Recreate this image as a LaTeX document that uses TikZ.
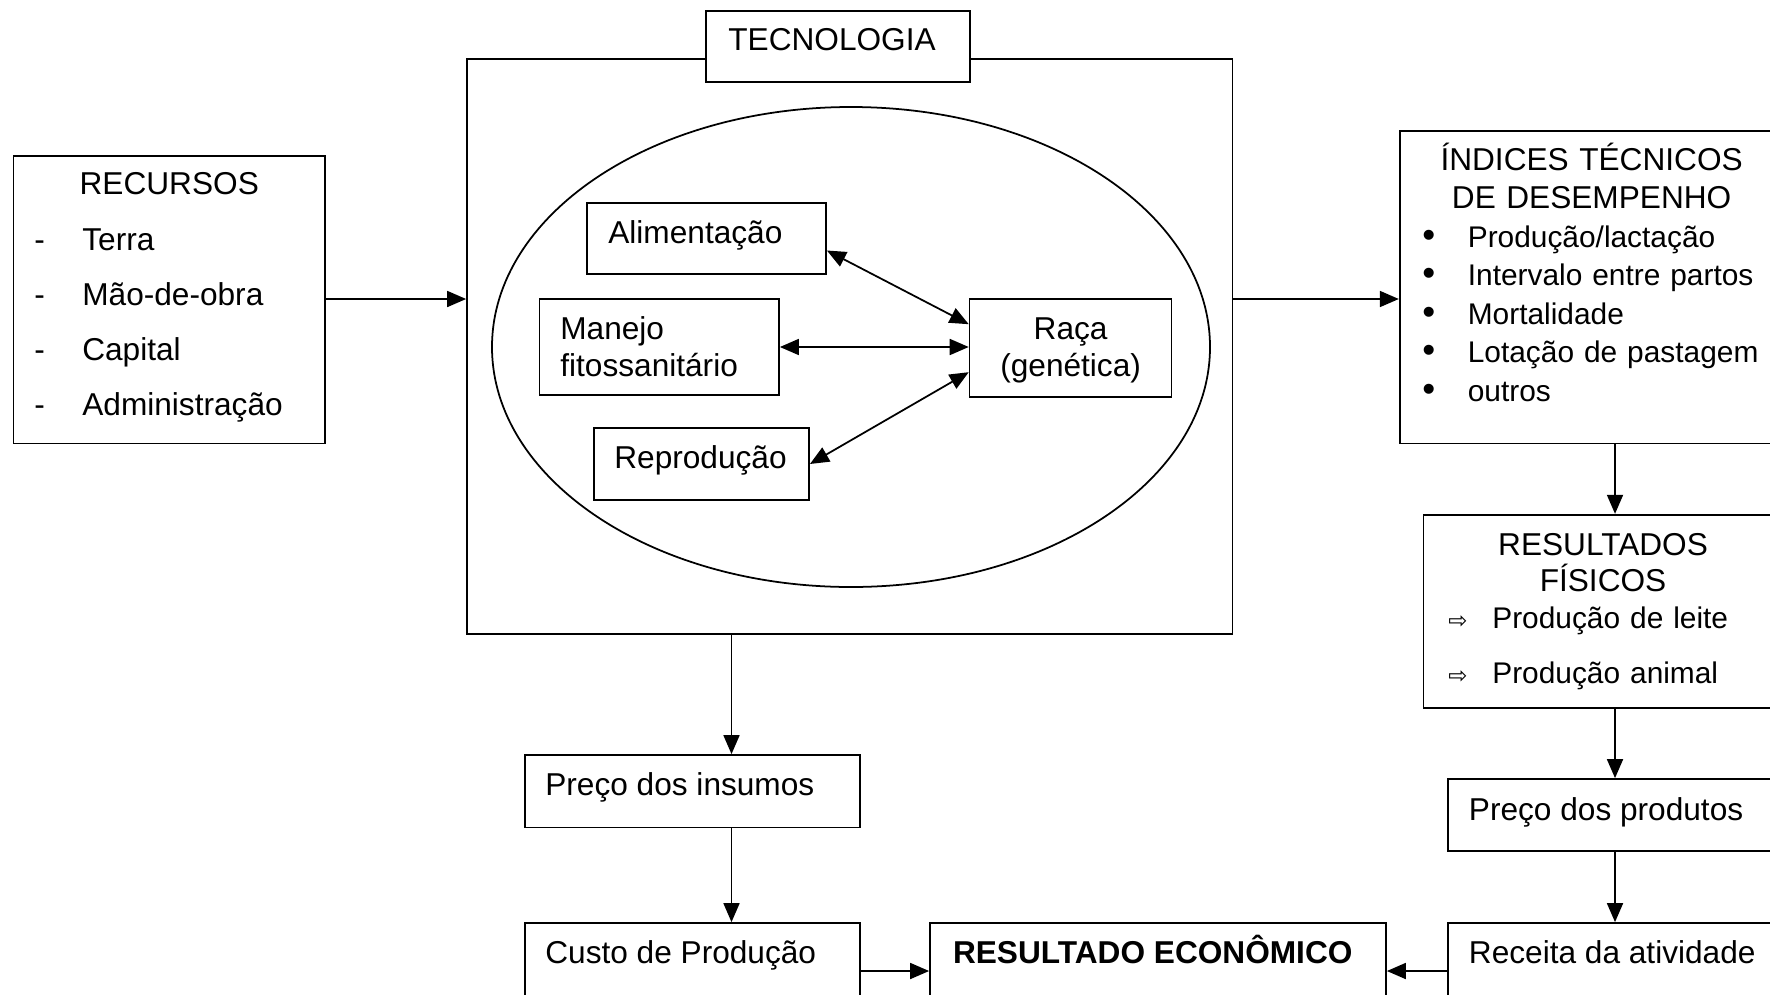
\documentclass[tikz,border=0pt]{standalone}
\usepackage{fontspec}
\setmainfont{Liberation Sans}
\newfontfamily\arrowfont{DejaVu Sans}
\usepackage{tikz}
\usetikzlibrary{positioning,arrows.meta,calc,shapes.geometric}

\newcommand\bul{\makebox[0.91cm][l]{\fontsize{21}{21}\selectfont\textbullet}}
\newcommand\seta{\makebox[0.88cm][l]{\arrowfont\fontsize{13}{13}\selectfont ⇨}}

\begin{document}
\begin{tikzpicture}[x=0.02cm, y=-0.02cm, >={Triangle[length=0.38cm, width=0.32cm]},
  every node/.style={font=\fontsize{18}{22}\selectfont, inner sep=0pt},
  box/.style={draw, line width=1pt},
  txt/.style={anchor=base west, align=left}]
  \def\u{0.02cm}
  \useasboundingbox (0,0) rectangle (1770,994);
  \clip (0,0) rectangle (1770,994);

  % caixas principais
  \node[box, minimum width=311.5*\u, minimum height=287.5*\u] (recursos) at (169.25,299.75) {};
  \node[box, minimum width=765.6*\u, minimum height=575.7*\u] (tecbox) at (849.8,346.5) {};
  \node[box, fill=white, minimum width=264*\u, minimum height=71*\u] (teclabel) at (838,46.5) {};
  \node[draw, ellipse, line width=1pt, minimum width=718*\u, minimum height=480*\u] (ovalo) at (851,347) {};

  \node[box, minimum width=239*\u, minimum height=71*\u] (alim) at (706.5,238.5) {};
  \node[box, minimum width=239.4*\u, minimum height=96*\u] (manejo) at (659.3,347) {};
  \node[box, minimum width=215.3*\u, minimum height=72.2*\u] (repro) at (701.4,464) {};
  \node[box, minimum width=202*\u, minimum height=98.3*\u] (raca) at (1070.6,348.2) {};

  \node[box, minimum width=384.3*\u, minimum height=312.6*\u] (indices) at (1591.85,287.3) {};
  \node[box, minimum width=359.2*\u, minimum height=193.1*\u] (resultados) at (1603,611.25) {};
  \node[box, minimum width=335*\u, minimum height=72*\u] (produtos) at (1615.5,815) {};
  \node[box, minimum width=335*\u, minimum height=96*\u] (receita) at (1615.5,971) {};
  \node[box, minimum width=456*\u, minimum height=96*\u] (resultado) at (1158,971) {};
  \node[box, minimum width=335*\u, minimum height=96*\u] (custo) at (692.5,971) {};
  \node[box, minimum width=335*\u, minimum height=72.4*\u] (insumos) at (692.5,791.2) {};

  % textos
  \node[anchor=base] (t-rec) at (169.25,194) {RECURSOS};
  \node[txt, text width=5.5cm, font=\fontsize{18}{31.35}\selectfont] (t-reclist) at (34,250)
    {\makebox[0.96cm][l]{-}Terra\\ \makebox[0.96cm][l]{-}Mão-de-obra\\
     \makebox[0.96cm][l]{-}Capital\\ \makebox[0.96cm][l]{-}Administração};
  \node[txt] (t-tec) at (728,50.5) {TECNOLOGIA};
  \node[txt] (t-alim) at (608,243.5) {Alimentação};
  \node[txt, text width=5cm, font=\fontsize{18}{21}\selectfont] (t-manejo) at (560,339.5) {Manejo\\fitossanitário};
  \node[txt] (t-repro) at (614,468) {Reprodução};
  \node[anchor=base, text width=202*\u, align=center, font=\fontsize{18}{21}\selectfont] (t-raca) at (1070.6,339.5) {Raça\\(genética)};

  \node[anchor=base, text width=384*\u, align=center] (t-indtit) at (1591.6,170) {ÍNDICES TÉCNICOS\\DE DESEMPENHO};
  \node[txt, text width=7.5cm, font=\fontsize{17}{22}\selectfont] (t-indlist) at (1422,247)
    {\bul Produção/lactação\\ \bul Intervalo entre partos\\ \bul Mortalidade\\
     \bul Lotação de pastagem\\ \bul outros};
  \node[anchor=base, text width=359*\u, align=center, font=\fontsize{18}{21}\selectfont] (t-restit) at (1603,555) {RESULTADOS\\FÍSICOS};
  \node[txt, text width=7cm, font=\fontsize{17}{31.35}\selectfont] (t-reslist) at (1448,628.5)
    {\seta Produção de leite\\ \seta Produção animal};
  \node[txt] (t-produtos) at (1468.6,820) {Preço dos produtos};
  \node[txt] (t-receita) at (1468.6,963.7) {Receita da atividade};
  \node[txt, font=\fontsize{18}{22}\selectfont\bfseries] (t-resultado) at (952.7,963.7) {RESULTADO ECONÔMICO};
  \node[txt] (t-custo) at (545,963.7) {Custo de Produção};
  \node[txt] (t-insumos) at (545,795.5) {Preço dos insumos};

  % ligacoes
  \coordinate (linha) at (0,299);
  \coordinate (colL) at (731.5,0);
  \coordinate (colR) at (1615,0);

  \draw[->, line width=1pt] (recursos.east |- linha) -- (tecbox.west |- linha);
  \draw[->, line width=1pt] (tecbox.east |- linha) -- (indices.west |- linha);
  \draw[<->, line width=1pt] ([yshift=-0.24cm]alim.east) -- ([yshift=0.48cm]raca.west);
  \draw[<->, line width=1pt] (manejo.east) -- (manejo.east -| raca.west);
  \draw[<->, line width=1pt] (repro.east) -- ([yshift=-0.48cm]raca.west);

  \draw[->, line width=1pt] (indices.south -| colR) -- (resultados.north -| colR);
  \draw[->, line width=1pt] (resultados.south -| colR) -- (produtos.north -| colR);
  \draw[->, line width=1pt] (produtos.south -| colR) -- (receita.north -| colR);
  \draw[->, line width=1pt] (receita) -- (resultado);

  \draw[->, line width=1pt] (tecbox.south -| colL) -- (insumos.north -| colL);
  \draw[->, line width=1pt] (insumos.south -| colL) -- (custo.north -| colL);
  \draw[->, line width=1pt] (custo) -- (resultado);
\end{tikzpicture}
\end{document}
